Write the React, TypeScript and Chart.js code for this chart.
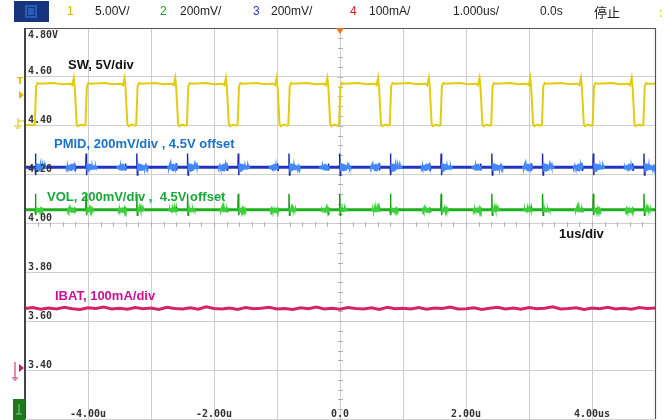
import React, { useEffect, useRef } from "react";
import { Chart, registerables } from "chart.js";

Chart.register(...registerables);

// ---- data (time in us, value in screen "volts") ----
const xTickValues = [-4, -2, 0, 2, 4];
const xTickLabels = ["-4.00u", "-2.00u", "0.0", "2.00u", "4.00us"];
const yTickValues = [4.8, 4.6, 4.4, 4.2, 4.0, 3.8, 3.6, 3.4];
const yTickLabels = ["4.80V", "4.60", "4.40", "4.20", "4.00", "3.80", "3.60", "3.40"];

const headerTexts = ["1", "5.00V/", "2", "200mV/", "3", "200mV/", "4", "100mA/", "1.000us/", "0.0s", "停止"];

// switching edges of SW (us)
const swRise = [-4.835, -4.03, -3.225, -2.42, -1.615, -0.81, -0.005, 0.8, 1.605, 2.41, 3.215, 4.02, 4.825];
const swFall = [-4.21, -3.405, -2.6, -1.795, -0.99, -0.185, 0.62, 1.425, 2.23, 3.035, 3.84, 4.645];
const swLevels = [4.572, 4.402, 4.596]; // high, low, overshoot

// rails: baseline, spike top at SW rise, spike bottom at SW rise, spike size at SW fall
const pmidLevels = [4.23, 4.286, 4.198, 0.016];
const volLevels = [4.056, 4.122, 4.034, 0.01];
// noise burst envelopes (half height) after the rise and around the fall
const pmidRiseBurst = [0.016, 0.015, 0.013, 0.011, 0.009, 0.007, 0.005, 0.003];
const pmidFallBurst = [0.003, 0.006, 0.009, 0.012, 0.014, 0.01, 0.005];
const volRiseBurst = [0.01, 0.008, 0.006, 0.004, 0.003];
const volFallBurst = [0.003, 0.005, 0.008, 0.01, 0.007, 0.004];

const ibatValues = [
  3.652, 3.656, 3.649, 3.654, 3.65, 3.657, 3.651, 3.648, 3.655, 3.652, 3.658, 3.65, 3.653, 3.649,
  3.656, 3.651, 3.654, 3.648, 3.657, 3.652, 3.65, 3.655, 3.649, 3.659, 3.652, 3.65, 3.654, 3.648,
  3.656, 3.651, 3.653, 3.657, 3.65, 3.652, 3.648, 3.655, 3.651, 3.658, 3.65, 3.653, 3.649, 3.656,
  3.652, 3.65, 3.655, 3.648, 3.657, 3.651, 3.653, 3.65, 3.656, 3.649, 3.654, 3.652, 3.658, 3.65,
  3.651, 3.655, 3.648, 3.653, 3.657, 3.65, 3.654, 3.649, 3.656, 3.651, 3.653, 3.659, 3.65, 3.652,
  3.655, 3.648, 3.654, 3.651, 3.657, 3.65, 3.653, 3.649, 3.656, 3.652, 3.654,
];

type P = { x: number; y: number };
const GAP = (x: number): P => ({ x, y: NaN });

function buildSW(): P[] {
  const [hi, lo, pk] = swLevels;
  const pts: P[] = [{ x: -5, y: lo }];
  swRise.forEach((r, i) => {
    pts.push({ x: r - 0.01, y: lo + 0.002 }, { x: r + 0.012, y: hi - 0.01 }, { x: r + 0.035, y: hi + 0.003 }, { x: r + 0.06, y: hi });
    const f = swFall[i];
    if (f !== undefined) {
      pts.push(
        { x: r + 0.3, y: hi + 0.003 },
        { x: r + 0.42, y: hi - 0.002 },
        { x: f - 0.07, y: hi },
        { x: f - 0.04, y: hi - 0.006 },
        { x: f - 0.015, y: pk },
        { x: f + 0.0, y: hi - 0.015 },
        { x: f + 0.03, y: lo + 0.005 },
        { x: f + 0.05, y: lo - 0.004 },
        { x: f + 0.1, y: lo + 0.003 },
        { x: f + 0.14, y: lo - 0.002 }
      );
    }
  });
  pts.push({ x: 5, y: hi });
  return pts;
}

function buildBase(levels: number[]): P[] {
  const b = levels[0];
  return [
    { x: -5, y: b },
    { x: 5, y: b },
  ];
}

function buildSpikes(levels: number[]): P[] {
  const [b, top, bot, s] = levels;
  const pts: P[] = [];
  swRise.forEach((t) => {
    pts.push({ x: t - 0.006, y: b }, { x: t, y: top }, { x: t + 0.008, y: bot }, { x: t + 0.016, y: b }, GAP(t + 0.02));
  });
  swFall.forEach((t) => {
    pts.push({ x: t - 0.005, y: b }, { x: t, y: b + s }, { x: t + 0.006, y: b - s * 0.8 }, { x: t + 0.012, y: b }, GAP(t + 0.015));
  });
  return pts.sort((p, q) => p.x - q.x);
}

function buildBursts(levels: number[], riseEnv: number[], fallEnv: number[]): P[] {
  const b = levels[0];
  const pts: P[] = [];
  const step = 0.007;
  const addBurst = (start: number, env: number[]) => {
    const n = env.length * 3;
    for (let k = 0; k <= n; k++) {
      const e = env[Math.min(env.length - 1, Math.floor(k / 3))];
      pts.push({ x: start + k * step, y: b + (k % 2 === 0 ? e : -e) });
    }
    pts.push(GAP(start + n * step + 0.002));
  };
  swRise.forEach((t) => addBurst(t + 0.01, riseEnv));
  swFall.forEach((t) => addBurst(t - fallEnv.length * 3 * step + 0.01, fallEnv));
  // keep bursts in time order
  const groups: P[][] = [];
  let cur: P[] = [];
  pts.forEach((p) => {
    cur.push(p);
    if (isNaN(p.y)) {
      groups.push(cur);
      cur = [];
    }
  });
  groups.sort((g, h) => g[0].x - h[0].x);
  return groups.flat();
}

function buildIbat(): P[] {
  const n = ibatValues.length;
  return ibatValues.map((v, i) => ({ x: -5 + (10 * i) / (n - 1), y: v }));
}

const scopePlugin = {
  id: "scopeDecor",
  beforeDatasetsDraw(chart: any) {
    const { ctx, scales } = chart;
    const xs = scales.x;
    const ys = scales.y;
    ctx.save();
    ctx.strokeStyle = "#b4b4b4";
    ctx.lineWidth = 1;
    const cx = Math.round(xs.getPixelForValue(0)) + 0.5;
    const cy = Math.round(ys.getPixelForValue(4.0)) + 0.5;
    for (let v = 3.2; v <= 4.8001; v += 0.04) {
      const y = Math.round(ys.getPixelForValue(v)) + 0.5;
      ctx.beginPath();
      ctx.moveTo(cx - 2.5, y);
      ctx.lineTo(cx + 2.5, y);
      ctx.stroke();
    }
    for (let v = -5; v <= 5.0001; v += 0.2) {
      const x = Math.round(xs.getPixelForValue(v)) + 0.5;
      ctx.beginPath();
      ctx.moveTo(x, cy - 2.5);
      ctx.lineTo(x, cy + 2.5);
      ctx.stroke();
    }
    ctx.restore();
  },
  afterDraw(chart: any) {
    const { ctx, chartArea: ca, scales } = chart;
    const xs = scales.x;
    const ys = scales.y;
    ctx.save();
    // frame
    ctx.strokeStyle = "#444";
    ctx.lineWidth = 2;
    ctx.beginPath();
    ctx.moveTo(ca.left, ca.top);
    ctx.lineTo(ca.left, ca.bottom);
    ctx.stroke();
    ctx.lineWidth = 1.2;
    ctx.strokeStyle = "#555";
    ctx.beginPath();
    ctx.moveTo(ca.left, ca.top + 0.5);
    ctx.lineTo(ca.right + 0.5, ca.top + 0.5);
    ctx.lineTo(ca.right + 0.5, ca.bottom);
    ctx.stroke();

    // tick labels
    ctx.font = "bold 10px 'DejaVu Sans Mono'";
    ctx.fillStyle = "#333";
    ctx.textAlign = "left";
    ctx.textBaseline = "middle";
    yTickValues.forEach((v, i) => {
      const y = ys.getPixelForValue(v);
      ctx.fillText(yTickLabels[i], ca.left + 3, i === 0 ? y + 7 : y - 5);
    });
    ctx.textAlign = "center";
    xTickValues.forEach((v, i) => {
      ctx.fillText(xTickLabels[i], xs.getPixelForValue(v), ca.bottom - 5);
    });

    // header
    ctx.fillStyle = "#fff";
    ctx.fillRect(0, 0, chart.width, ca.top - 1);
    ctx.fillStyle = "#17357e";
    ctx.fillRect(14, 1, 35, 21);
    ctx.fillStyle = "#2d5cb4";
    ctx.fillRect(25, 5, 12, 13);
    ctx.strokeStyle = "#17357e";
    ctx.lineWidth = 1;
    ctx.strokeRect(27.5, 7.5, 7, 8);
    const hx = [67, 95, 160, 180, 253, 271, 350, 369, 453, 540, 594];
    const hc = ["#c8b400", "#222", "#1a9a2a", "#222", "#2438c0", "#222", "#e0202a", "#222", "#222", "#222", "#222"];
    ctx.textAlign = "left";
    ctx.textBaseline = "middle";
    headerTexts.forEach((t, i) => {
      ctx.fillStyle = hc[i];
      ctx.font = i === 10 ? "13px 'Noto Sans CJK SC'" : "12px 'Liberation Sans'";
      ctx.fillText(t, hx[i], 12);
    });
    ctx.fillStyle = "#e0c800";
    ctx.fillText(":", 659, 12);

    // trigger marker
    const tx = xs.getPixelForValue(0);
    ctx.fillStyle = "#e8741c";
    ctx.beginPath();
    ctx.moveTo(tx - 4, ca.top);
    ctx.lineTo(tx + 4, ca.top);
    ctx.lineTo(tx, ca.top + 6);
    ctx.closePath();
    ctx.fill();

    // left channel markers
    ctx.fillStyle = "#d8c000";
    ctx.strokeStyle = "#d8c000";
    ctx.font = "bold 9px 'DejaVu Sans'";
    ctx.textAlign = "center";
    ctx.fillText("T", 20, 82);
    ctx.beginPath();
    ctx.moveTo(19, 91);
    ctx.lineTo(24, 95);
    ctx.lineTo(19, 99);
    ctx.closePath();
    ctx.fill();
    ctx.lineWidth = 1;
    ctx.beginPath();
    ctx.moveTo(18, 118);
    ctx.lineTo(18, 126);
    ctx.moveTo(14, 126);
    ctx.lineTo(22, 126);
    ctx.moveTo(16, 128);
    ctx.lineTo(20, 128);
    ctx.moveTo(18, 121);
    ctx.lineTo(24, 121);
    ctx.stroke();
    ctx.fillStyle = "#c8186a";
    ctx.strokeStyle = "#c8186a";
    ctx.beginPath();
    ctx.moveTo(19, 364);
    ctx.lineTo(24, 368);
    ctx.lineTo(19, 372);
    ctx.closePath();
    ctx.fill();
    ctx.beginPath();
    ctx.moveTo(15, 362);
    ctx.lineTo(15, 378);
    ctx.moveTo(12, 378);
    ctx.lineTo(18, 378);
    ctx.moveTo(13.5, 380);
    ctx.lineTo(16.5, 380);
    ctx.stroke();
    ctx.fillStyle = "#1c7a1c";
    ctx.fillRect(13, 399, 12, 21);
    ctx.strokeStyle = "#7ed07e";
    ctx.beginPath();
    ctx.moveTo(19, 404);
    ctx.lineTo(19, 414);
    ctx.moveTo(16, 414);
    ctx.lineTo(22, 414);
    ctx.stroke();

    // annotations
    ctx.textAlign = "left";
    ctx.textBaseline = "middle";
    ctx.font = "bold 13px 'Liberation Sans'";
    ctx.fillStyle = "#111";
    ctx.fillText("SW, 5V/div", 68, 65);
    ctx.fillStyle = "#1c72c8";
    ctx.fillText("PMID, 200mV/div , 4.5V offset", 54, 144);
    ctx.fillStyle = "#17a83a";
    ctx.fillText("VOL, 200mV/div ,  4.5V offset", 47, 197);
    ctx.fillStyle = "#111";
    ctx.fillText("1us/div", 559, 234);
    ctx.fillStyle = "#cc1197";
    ctx.fillText("IBAT, 100mA/div", 55, 296);
    ctx.restore();
  },
};

export default function App() {
  const ref = useRef<HTMLCanvasElement | null>(null);
  useEffect(() => {
    if (!ref.current) return;
    const chart = new Chart(ref.current, {
      type: "line",
      data: {
        datasets: [
          { data: buildIbat(), borderColor: "#d42466", borderWidth: 3 },
          { data: buildBursts(volLevels, volRiseBurst, volFallBurst), borderColor: "#3ccf3c", borderWidth: 1.5 },
          { data: buildBase(volLevels), borderColor: "#1cb01c", borderWidth: 3 },
          { data: buildSpikes(volLevels), borderColor: "#139a13", borderWidth: 1.4 },
          { data: buildBursts(pmidLevels, pmidRiseBurst, pmidFallBurst), borderColor: "#4388ff", borderWidth: 1.5 },
          { data: buildBase(pmidLevels), borderColor: "#1f33c4", borderWidth: 3 },
          { data: buildSpikes(pmidLevels), borderColor: "#1a2aa8", borderWidth: 1.4 },
          { data: buildSW(), borderColor: "#e2cc10", borderWidth: 2 },
        ],
      },
      options: {
        animation: false,
        responsive: false,
        devicePixelRatio: 1,
        parsing: false as any,
        spanGaps: false,
        layout: { padding: { left: 25, right: 11, top: 28, bottom: 1 } },
        elements: { point: { radius: 0 }, line: { tension: 0 } },
        plugins: { legend: { display: false }, tooltip: { enabled: false } },
        scales: {
          x: {
            type: "linear",
            min: -5,
            max: 5,
            ticks: { display: false, stepSize: 1 },
            grid: { color: "#cfcfcf", drawTicks: false },
            border: { display: false },
            afterFit: (s: any) => {
              s.height = 0;
            },
          },
          y: {
            type: "linear",
            min: 3.2,
            max: 4.8,
            ticks: { display: false, stepSize: 0.2 },
            grid: { color: "#cfcfcf", drawTicks: false },
            border: { display: false },
            afterFit: (s: any) => {
              s.width = 0;
            },
          },
        },
      },
      plugins: [scopePlugin],
    });
    return () => chart.destroy();
  }, []);
  return (
    <div style={{ position: "absolute", left: 0, top: 0, width: 666, height: 420, background: "#fff" }}>
      <canvas ref={ref} width={666} height={420} style={{ display: "block" }} />
    </div>
  );
}
